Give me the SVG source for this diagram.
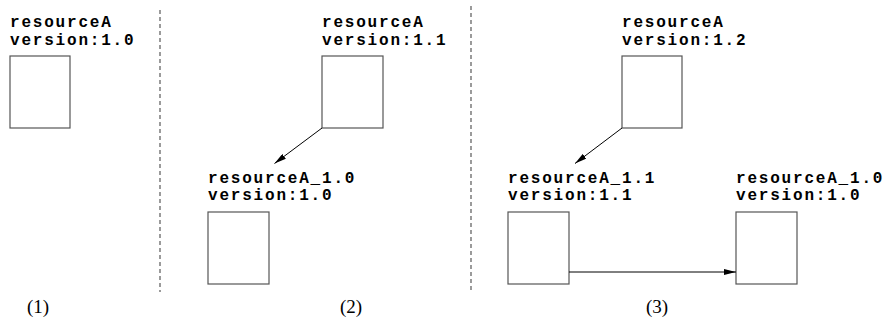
<svg xmlns="http://www.w3.org/2000/svg" width="887" height="322" viewBox="0 0 887 322">
  <style>
    .lbl { font-family: "Liberation Mono", "Courier New", monospace; font-weight: bold; font-size: 16px; letter-spacing: 1.8px; fill: #000; }
    .cap { font-family: "Liberation Serif", "Times New Roman", serif; font-size: 19px; fill: #000; }
    .box { fill: #fff; stroke: #555; stroke-width: 1.2; }
    .sep { stroke: #666; stroke-width: 1.3; stroke-dasharray: 4 3; fill: none; }
    .edge { stroke: #000; stroke-width: 1; fill: none; marker-end: url(#arrow); }
  </style>
  <defs>
    <marker id="arrow" viewBox="0 0 12 6" refX="12" refY="3" markerWidth="12" markerHeight="6" markerUnits="userSpaceOnUse" orient="auto">
      <path d="M0,0 L12,3 L0,6 Z" fill="#000"/>
    </marker>
  </defs>

  <rect width="887" height="322" fill="#fff"/>

  <!-- panel separators -->
  <line class="sep" x1="160" y1="10" x2="160" y2="292"/>
  <line class="sep" x1="471" y1="6" x2="471" y2="292"/>

  <!-- panel (1) -->
  <g id="p1-resourceA">
    <text class="lbl" x="10" y="27">resourceA</text>
    <text class="lbl" x="10" y="44.5">version:1.0</text>
    <rect class="box" x="10" y="56" width="60" height="72"/>
  </g>

  <!-- panel (2) -->
  <g id="p2-resourceA">
    <text class="lbl" x="322" y="27">resourceA</text>
    <text class="lbl" x="322" y="44.5">version:1.1</text>
    <rect class="box" x="322" y="56" width="61" height="72"/>
  </g>
  <g id="p2-resourceA_1.0">
    <text class="lbl" x="208" y="182.5">resourceA_1.0</text>
    <text class="lbl" x="208" y="200">version:1.0</text>
    <rect class="box" x="208" y="212" width="61" height="72"/>
  </g>

  <!-- panel (3) -->
  <g id="p3-resourceA">
    <text class="lbl" x="622" y="27">resourceA</text>
    <text class="lbl" x="622" y="44.5">version:1.2</text>
    <rect class="box" x="622" y="56" width="60" height="72"/>
  </g>
  <g id="p3-resourceA_1.1">
    <text class="lbl" x="508" y="182.5">resourceA_1.1</text>
    <text class="lbl" x="508" y="200">version:1.1</text>
    <rect class="box" x="508" y="212" width="61" height="72"/>
  </g>
  <g id="p3-resourceA_1.0">
    <text class="lbl" x="736" y="182.5">resourceA_1.0</text>
    <text class="lbl" x="736" y="200">version:1.0</text>
    <rect class="box" x="736" y="212" width="61" height="72"/>
  </g>

  <!-- connectors -->
  <g id="connectors">
    <line class="edge" x1="322" y1="128" x2="274.5" y2="163.5"/>
    <line class="edge" x1="622" y1="128" x2="575" y2="163.5"/>
    <line class="edge" x1="569" y1="272" x2="736" y2="272"/>
  </g>

  <!-- panel captions -->
  <text class="cap" x="27" y="313">(1)</text>
  <text class="cap" x="340" y="313">(2)</text>
  <text class="cap" x="646" y="313">(3)</text>
</svg>
